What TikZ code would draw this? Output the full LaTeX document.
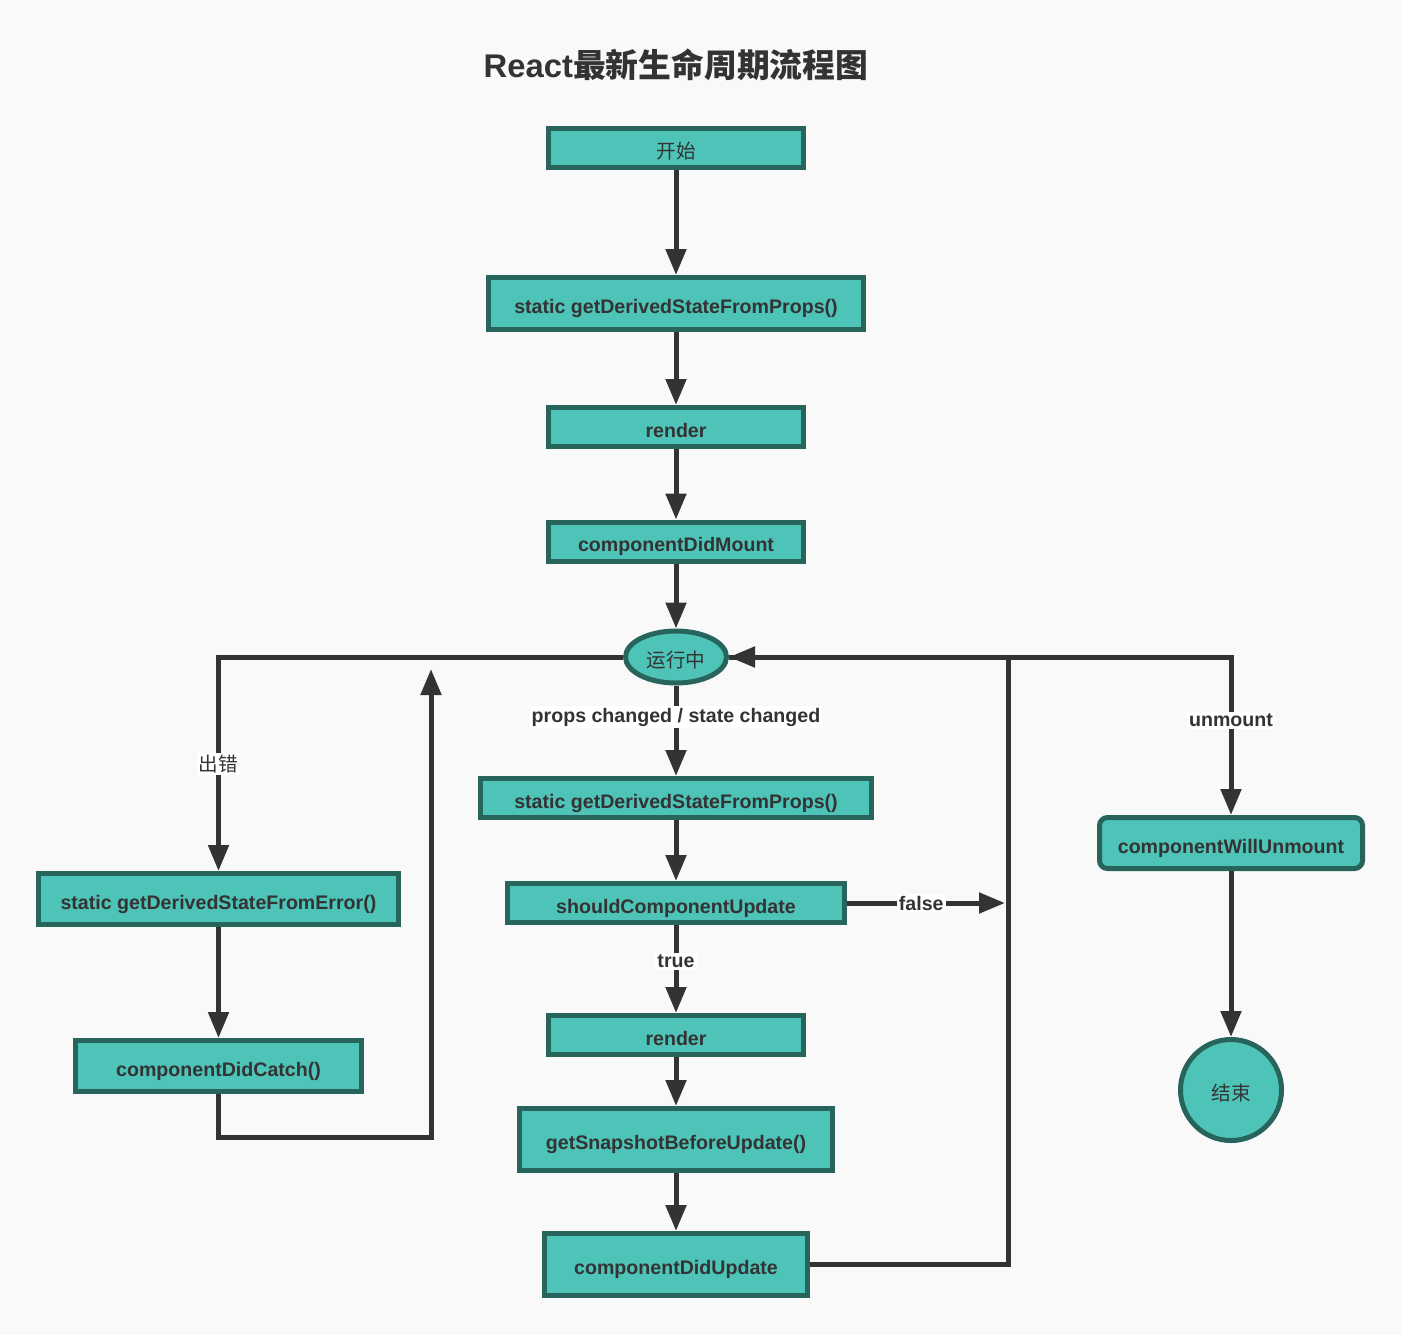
\documentclass[tikz,border=0pt]{standalone}
\usepackage{fontspec}
\setmainfont{Liberation Sans}
\newfontfamily\cjk{Noto Sans CJK SC}
\usetikzlibrary{arrows.meta,shapes.geometric}

\definecolor{bgc}{HTML}{F9F9F9}
\definecolor{tealfill}{HTML}{4EC3B8}
\definecolor{tealline}{HTML}{27645C}
\definecolor{ink}{HTML}{333333}

\begin{document}
\begin{tikzpicture}[x=0.5pt,y=-0.5pt,
  box/.style={draw=tealline,fill=tealfill,line width=2.5pt,inner sep=0pt,text=ink,
    text height=10pt,text depth=0pt,
    font=\bfseries\fontsize{9.8}{11}\selectfont,minimum width=127.5pt,minimum height=19.5pt},
  arr/.style={draw=ink,line width=2.5pt,-{Triangle[length=13pt,width=10pt]}},
  lbl/.style={fill=white,inner sep=1pt,text=ink,font=\bfseries\fontsize{9.8}{11}\selectfont}]

\fill[bgc] (0,0) rectangle (1402,1335);
\useasboundingbox (0,0) rectangle (1402,1335);

\node[text=ink,font=\bfseries\fontsize{16.4}{20}\selectfont] (title) at (676,65) {React{\cjk 最新生命周期流程图}};

\node[box] (start) at (676,148) {\cjk\mdseries 开始};
\node[box,minimum width=187.5pt,minimum height=26pt] (derive1) at (676,303.5) {static getDerivedStateFromProps()};
\node[box] (render1) at (676,427) {render};
\node[box] (didmount) at (676,541.5) {componentDidMount};
\node[box,ellipse,minimum width=50.5pt,minimum height=26pt] (running) at (676,657) {\cjk\mdseries 运行中};

\node[box,minimum width=195.5pt] (derive2) at (676,798) {static getDerivedStateFromProps()};
\node[box,minimum width=168.5pt] (should) at (676,903) {shouldComponentUpdate};
\node[box] (render2) at (676,1035) {render};
\node[box,minimum width=156.5pt,minimum height=31pt] (snapshot) at (676,1139.5) {getSnapshotBeforeUpdate()};
\node[box,minimum width=131.5pt,minimum height=31pt] (didupdate) at (676,1264.5) {componentDidUpdate};

\node[box,minimum width=180pt,minimum height=25.5pt] (fromerror) at (218.5,899) {static getDerivedStateFromError()};
\node[box,minimum width=143pt,minimum height=25.5pt] (didcatch) at (218.5,1066) {componentDidCatch()};

\node[box,rounded corners=4pt,minimum width=131.5pt,minimum height=25.5pt] (willunmount) at (1231,843) {componentWillUnmount};
\node[box,circle,minimum size=50.5pt] (finish) at (1231,1090) {\cjk\mdseries 结束};

\coordinate (falseend) at (1005,903);
\coordinate (looptop) at (431,669);
\coordinate (loopcorner) at (431,1137);
\coordinate (backcorner) at (1008,657);

\draw[arr] (start) -- (derive1);
\draw[arr] (derive1) -- (render1);
\draw[arr] (render1) -- (didmount);
\draw[arr] (didmount) -- (running);

\draw[arr] (running) -- node[lbl,pos=0.35] {props changed / state changed} (derive2);
\draw[arr] (derive2) -- (should);
\draw[arr] (should) -- node[lbl,pos=0.41] {true} (render2);
\draw[arr] (should) -- node[lbl,pos=0.47] {false} (falseend);
\draw[arr] (render2) -- (snapshot);
\draw[arr] (snapshot) -- (didupdate);
\draw[arr] (didupdate.east) -| (backcorner) -- (running.east);

\draw[arr] (running.west) -| node[lbl,pos=0.75] {\cjk\mdseries 出错} (fromerror.north);
\draw[arr] (fromerror) -- (didcatch);
\draw[arr] (didcatch.south) |- (loopcorner) -- (looptop);

\draw[arr] (running.east) -| node[lbl,pos=0.7] {unmount} (willunmount.north);
\draw[arr] (willunmount) -- (finish);

\end{tikzpicture}
\end{document}
